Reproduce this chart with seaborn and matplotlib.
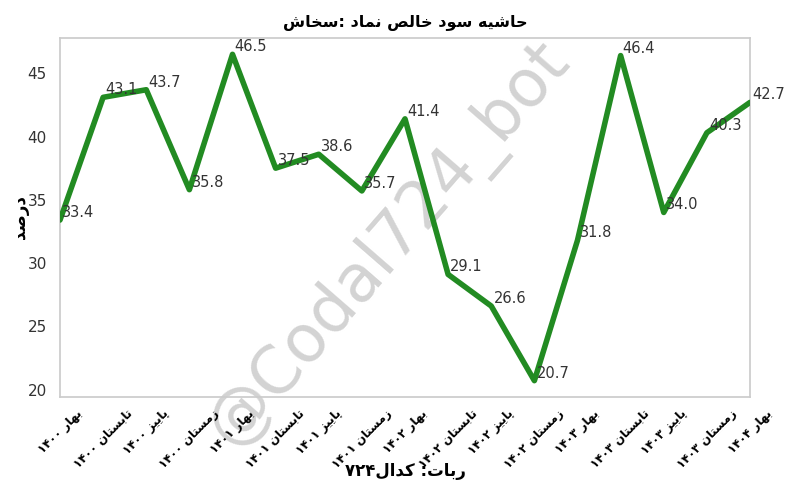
import numpy as np
import pandas as pd
import matplotlib
matplotlib.use('Agg')
import matplotlib.pyplot as plt
import seaborn as sns

# ---------------------------------------------------------------------
# data
# ---------------------------------------------------------------------
quarters = ['بهار ۱۴۰۰', 'تابستان ۱۴۰۰', 'پاییز ۱۴۰۰', 'زمستان ۱۴۰۰',
            'بهار ۱۴۰۱', 'تابستان ۱۴۰۱', 'پاییز ۱۴۰۱', 'زمستان ۱۴۰۱',
            'بهار ۱۴۰۲', 'تابستان ۱۴۰۲', 'پاییز ۱۴۰۲', 'زمستان ۱۴۰۲',
            'بهار ۱۴۰۳', 'تابستان ۱۴۰۳', 'پاییز ۱۴۰۳', 'زمستان ۱۴۰۳',
            'بهار ۱۴۰۴']
net_margin = [33.4, 43.1, 43.7, 35.8, 46.5, 37.5, 38.6, 35.7,
              41.4, 29.1, 26.6, 20.7, 31.8, 46.4, 34.0, 40.3, 42.7]

title_text = 'حاشیه سود خالص نماد :سخاش'
ylabel_text = 'درصد'
xlabel_text = 'ربات: کدال۷۲۴'
watermark = '@Codal724_bot'

# ---------------------------------------------------------------------
# tiny persian shaper (matplotlib has no arabic shaping / bidi)
# forms: isolated, final, initial, medial
# ---------------------------------------------------------------------
FORMS = {
    'ا': ('\uFE8D', '\uFE8E', None, None),
    'ب': ('\uFE8F', '\uFE90', '\uFE91', '\uFE92'),
    'پ': ('\uFB56', '\uFB57', '\uFB58', '\uFB59'),
    'ت': ('\uFE95', '\uFE96', '\uFE97', '\uFE98'),
    'ح': ('\uFEA1', '\uFEA2', '\uFEA3', '\uFEA4'),
    'خ': ('\uFEA5', '\uFEA6', '\uFEA7', '\uFEA8'),
    'د': ('\uFEA9', '\uFEAA', None, None),
    'ر': ('\uFEAD', '\uFEAE', None, None),
    'ز': ('\uFEAF', '\uFEB0', None, None),
    'س': ('\uFEB1', '\uFEB2', '\uFEB3', '\uFEB4'),
    'ش': ('\uFEB5', '\uFEB6', '\uFEB7', '\uFEB8'),
    'ص': ('\uFEB9', '\uFEBA', '\uFEBB', '\uFEBC'),
    'ک': ('\uFB8E', '\uFB8F', '\uFB90', '\uFB91'),
    'ل': ('\uFEDD', '\uFEDE', '\uFEDF', '\uFEE0'),
    'م': ('\uFEE1', '\uFEE2', '\uFEE3', '\uFEE4'),
    'ن': ('\uFEE5', '\uFEE6', '\uFEE7', '\uFEE8'),
    'ه': ('\uFEE9', '\uFEEA', '\uFEEB', '\uFEEC'),
    'و': ('\uFEED', '\uFEEE', None, None),
    'ی': ('\uFBFC', '\uFBFD', '\uFBFE', '\uFBFF'),
}
DIGITS = set('0123456789۰۱۲۳۴۵۶۷۸۹')


def fa(text):
    """shape letters, then lay the line out right-to-left (digit runs kept LTR)"""
    shaped = []
    for i, ch in enumerate(text):
        if ch not in FORMS:
            shaped.append(ch)
            continue
        prev = text[i - 1] if i > 0 else ''
        nxt = text[i + 1] if i + 1 < len(text) else ''
        join_prev = prev in FORMS and FORMS[prev][2] is not None
        join_next = nxt in FORMS and FORMS[ch][2] is not None
        iso, fin, ini, med = FORMS[ch]
        if join_prev and join_next:
            shaped.append(med)
        elif join_prev:
            shaped.append(fin)
        elif join_next:
            shaped.append(ini)
        else:
            shaped.append(iso)
    # split into digit runs / other chars, reverse order, keep digit runs intact
    chunks, run = [], ''
    for ch in shaped:
        if ch in DIGITS:
            run += ch
        else:
            if run:
                chunks.append(run)
                run = ''
            chunks.append(ch)
    if run:
        chunks.append(run)
    return ''.join(chunks[::-1])


# ---------------------------------------------------------------------
# plot
# ---------------------------------------------------------------------
sns.set_theme(style='whitegrid')
plt.rcParams['font.family'] = ['DejaVu Sans']

df = pd.DataFrame({'idx': np.arange(len(quarters)), 'margin': net_margin})

fig = plt.figure(figsize=(8, 5), dpi=100)
ax = fig.add_axes([0.075, 0.206, 0.8625, 0.718])

sns.lineplot(data=df, x='idx', y='margin', color='forestgreen', linewidth=4, ax=ax, zorder=3)

for x, v in zip(df['idx'], df['margin']):
    ax.text(x + 0.05, v, f'{v:.1f}', ha='left', va='bottom', fontsize=10.5,
            color='#333333', zorder=4)

# watermark behind the line and the tick labels (axisbelow puts axis at 0.5)
ax.text(0.478, 0.425, watermark, transform=ax.transAxes, fontsize=47, color='#d3d3d3',
        rotation=49, ha='center', va='center', zorder=0.4, clip_on=False)

ax.grid(False)
ax.set_xlim(0, len(quarters) - 1)
ax.set_xticks(df['idx'])
ax.set_xticklabels([fa(q) for q in quarters], rotation=45, fontsize=8.5,
                   fontweight='bold', color='black')
ax.tick_params(axis='x', pad=1)
ax.tick_params(axis='y', labelsize=11, labelcolor='#333333')
ax.set_ylabel(fa(ylabel_text), fontsize=12, fontweight='bold', color='black')
ax.yaxis.set_label_coords(-0.045, 0.5)
ax.set_xlabel(fa(xlabel_text), fontsize=12, fontweight='bold', color='black')
ax.xaxis.set_label_coords(0.5, -0.18)
ax.set_title(fa(title_text), fontsize=11.5, fontweight='bold', color='black', pad=8)

fig.savefig('out.png', dpi=100)
